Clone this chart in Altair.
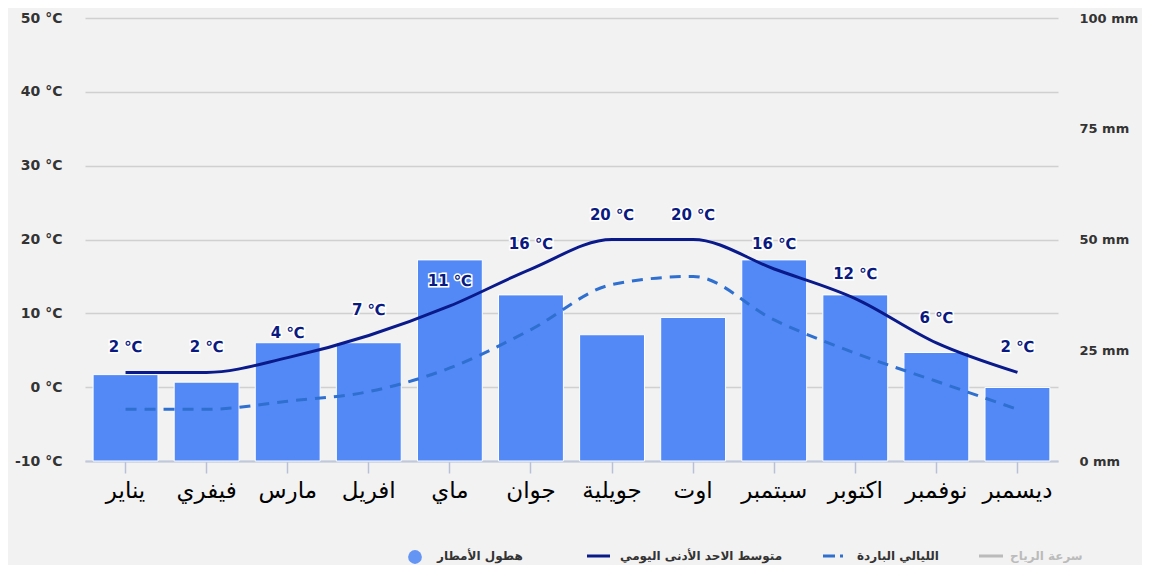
import altair as alt
import pandas as pd

months = ["يناير", "فيفري", "مارس", "افريل", "ماي", "جوان",
          "جويلية", "اوت", "سبتمبر", "اكتوبر", "نوفمبر", "ديسمبر"]
precip_mm = [19.5, 17.8, 26.7, 26.7, 45.4, 37.5, 28.5, 32.4, 45.4, 37.5, 24.5, 16.6]
temp_min = [2, 2, 4, 7, 11, 16, 20, 20, 16, 12, 6, 2]
cold_nights = [-3.0, -3.0, -1.9, -0.6, 2.6, 7.8, 13.9, 15.0, 9.1, 4.6, 0.8, -3.0]
temp_ticks = [-10, 0, 10, 20, 30, 40, 50]
precip_ticks = [0, 25, 50, 75, 100]
legend_labels = ["هطول الأمطار", "متوسط الاحد الأدنى اليومي", "الليالي الباردة", "سرعة الرياح"]

df = pd.DataFrame({
    "month": months,
    "precip": precip_mm,
    "tmin": temp_min,
    "cold": cold_nights,
})
df["label"] = [f"{v} ℃" for v in temp_min]

W, H = 973, 443
FONT = "DejaVu Sans"

x = alt.X("month:N", sort=months, title=None,
          scale=alt.Scale(paddingInner=0.2, paddingOuter=0.1),
          axis=alt.Axis(labelAngle=0, labelFontSize=23, labelColor="#000000",
                        labelFont=FONT, labelPadding=6, tickSize=12,
                        tickColor="#b8c0d8", tickWidth=1.5,
                        domainColor="#c0c8dc", domainWidth=2, grid=False))

base = alt.Chart(df)

bars = base.mark_bar(color="#5389F7", stroke="white", strokeWidth=1).encode(
    x=x,
    y=alt.Y("precip:Q", title=None,
            scale=alt.Scale(domain=[0, 100], nice=False, zero=True),
            axis=alt.Axis(orient="right", values=precip_ticks,
                          labelExpr="datum.value + ' mm'", grid=False,
                          ticks=False, domain=False, labelPadding=21,
                          labelFontSize=13, labelFont=FONT,
                          labelFontWeight="bold", labelColor="#333333")),
)

tscale = alt.Scale(domain=[-10, 50], nice=False, zero=False)
ty = alt.Y("tmin:Q", title=None, scale=tscale,
           axis=alt.Axis(orient="left", values=temp_ticks,
                         labelExpr="datum.value + ' °C'", grid=True,
                         gridColor="#d0d0d0", gridWidth=1.5,
                         ticks=False, domain=False, labelPadding=23,
                         labelFontSize=14, labelFont=FONT,
                         labelFontWeight="bold", labelColor="#333333"))

cold_line = base.mark_line(color="#2F6FD0", strokeWidth=3, strokeDash=[11, 8],
                           interpolate="monotone").encode(
    x=x, y=alt.Y("cold:Q", scale=tscale, axis=None)
)

min_line = base.mark_line(color="#0A1A8A", strokeWidth=3,
                          interpolate="monotone").encode(x=x, y=ty)

halo = base.mark_text(dy=-25, fontSize=15, fontWeight="bold", font=FONT,
                      color="white", stroke="white", strokeWidth=3).encode(
    x=x, y=alt.Y("tmin:Q", scale=tscale, axis=None), text="label:N")
labels = base.mark_text(dy=-25, fontSize=15, fontWeight="bold", font=FONT,
                        color="#0A1A80").encode(
    x=x, y=alt.Y("tmin:Q", scale=tscale, axis=None), text="label:N")

# manual legend (decoration)
one = pd.DataFrame({"a": [0]})
LY = 538
leg_circle = alt.Chart(one).mark_point(shape="circle", filled=True, size=190,
                                       color="#6495F5", opacity=1).encode(
    x=alt.value(330), y=alt.value(LY + 1))
leg_navy = alt.Chart(one).mark_rule(color="#0A1A8A", strokeWidth=3).encode(
    x=alt.value(502), x2=alt.value(525), y=alt.value(LY))
leg_dash = alt.Chart(one).mark_rule(color="#2F6FD0", strokeWidth=3, strokeDash=[12, 5, 3, 5]).encode(
    x=alt.value(738), x2=alt.value(762), y=alt.value(LY))
leg_gray = alt.Chart(one).mark_rule(color="#bbbbbb", strokeWidth=3).encode(
    x=alt.value(894), x2=alt.value(918), y=alt.value(LY))

def leg_text(xpos, txt, color):
    return alt.Chart(one).mark_text(align="left", baseline="middle", fontSize=12,
                                    fontWeight="bold", font=FONT, color=color).encode(
        x=alt.value(xpos), y=alt.value(LY), text=alt.value(txt))

legend = alt.layer(
    leg_circle, leg_navy, leg_dash, leg_gray,
    leg_text(352, legend_labels[0], "#333333"),
    leg_text(535, legend_labels[1], "#333333"),
    leg_text(772, legend_labels[2], "#333333"),
    leg_text(925, legend_labels[3], "#bbbbbb"),
)

chart = alt.layer(bars, cold_line, min_line, halo, labels, legend).resolve_scale(
    y="independent"
).properties(
    width=W, height=H,
    autosize=alt.AutoSizeParams(type="none"),
    padding={"left": 77, "top": 10, "right": 84, "bottom": 104},
    background="#f2f2f2",
).configure_view(stroke=None)

chart.save("out.html", embed_options={"renderer": "svg", "actions": False})
